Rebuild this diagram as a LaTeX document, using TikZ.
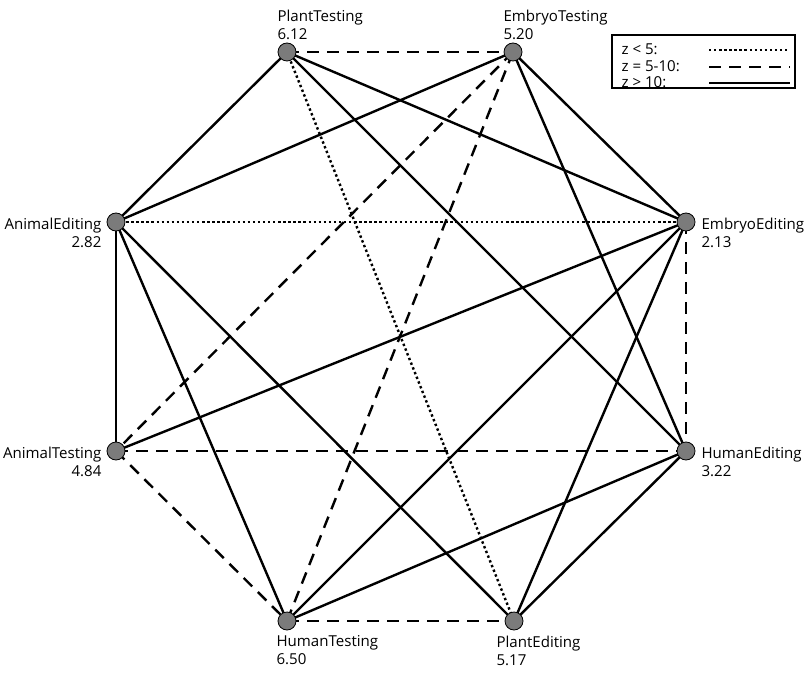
\documentclass[tikz,border=0pt]{standalone}
\usepackage{fontspec}
\setmainfont{Open Sans}
\begin{document}
\begin{tikzpicture}[x=0.75pt,y=-0.75pt,
  vert/.style={circle,draw=black,fill=gray!85!black!90,minimum size=13.5pt,inner sep=0pt,line width=0.6pt},
  lo/.style={line width=1.8pt,dotted},
  mid/.style={line width=1.8pt,dash pattern=on 9pt off 6pt},
  hi/.style={line width=1.8pt},
  lbl/.style={font=\fontsize{11.3}{13.5}\selectfont,align=left,inner sep=1pt}]
\useasboundingbox (0,0) rectangle (809,677);
\coordinate (PT) at (287,52);
\coordinate (ET) at (513,52);
\coordinate (EE) at (686,222);
\coordinate (HE) at (686,451);
\coordinate (PE) at (514,621);
\coordinate (HT) at (287,621);
\coordinate (AT) at (116,451);
\coordinate (AE) at (116,222);
% dashed
\draw[mid] (PT)--(ET);
\draw[mid] (ET)--(AT);
\draw[mid] (ET)--(HT);
\draw[mid] (AT)--(HE);
\draw[mid] (AT)--(HT);
\draw[mid] (HT)--(PE);
\draw[mid] (EE)--(HE);
% dotted
\draw[lo] (PT)--(PE);
\draw[lo] (AE)--(EE);
% solid
\draw[hi] (PT)--(AE);
\draw[hi] (PT)--(EE);
\draw[hi] (PT)--(HE);
\draw[hi] (ET)--(AE);
\draw[hi] (ET)--(EE);
\draw[hi] (ET)--(HE);
\draw[hi] (AE)--(AT);
\draw[hi] (AE)--(HT);
\draw[hi] (AE)--(PE);
\draw[hi] (AT)--(EE);
\draw[hi] (EE)--(HT);
\draw[hi] (EE)--(PE);
\draw[hi] (HE)--(HT);
\draw[hi] (HE)--(PE);
\foreach \n in {PT,ET,EE,HE,PE,HT,AT,AE} \node[vert] (v\n) at (\n) {};
\node[lbl,anchor=south west] (tPT) at (276,41) {PlantTesting\\6.12};
\node[lbl,anchor=south west] (tET) at (502,41) {EmbryoTesting\\5.20};
\node[lbl,anchor=west] (tEE) at (700,233) {EmbryoEditing\\2.13};
\node[lbl,anchor=west] (tHE) at (700,462) {HumanEditing\\3.22};
\node[lbl,anchor=north west] (tPE) at (495,634) {PlantEditing\\5.17};
\node[lbl,anchor=north west] (tHT) at (275,634) {HumanTesting\\6.50};
\node[lbl,anchor=east,align=right] (tAT) at (103,462) {AnimalTesting\\4.84};
\node[lbl,anchor=east,align=right] (tAE) at (103,233) {AnimalEditing\\2.82};
% legend
\draw[line width=0.9pt] (612,35) rectangle (795,88);
\node[lbl,anchor=west] (l1) at (620,49) {z < 5:};
\node[lbl,anchor=west] (l2) at (620,66) {z = 5-10:};
\node[lbl,anchor=west] (l3) at (620,82) {z > 10:};
\coordinate (a1) at (709,50); \coordinate (b1) at (790,50);
\coordinate (a2) at (709,67); \coordinate (b2) at (790,67);
\coordinate (a3) at (709,83); \coordinate (b3) at (790,83);
\draw[lo] (a1)--(b1);
\draw[mid] (a2)--(b2);
\draw[hi] (a3)--(b3);
\end{tikzpicture}
\end{document}
